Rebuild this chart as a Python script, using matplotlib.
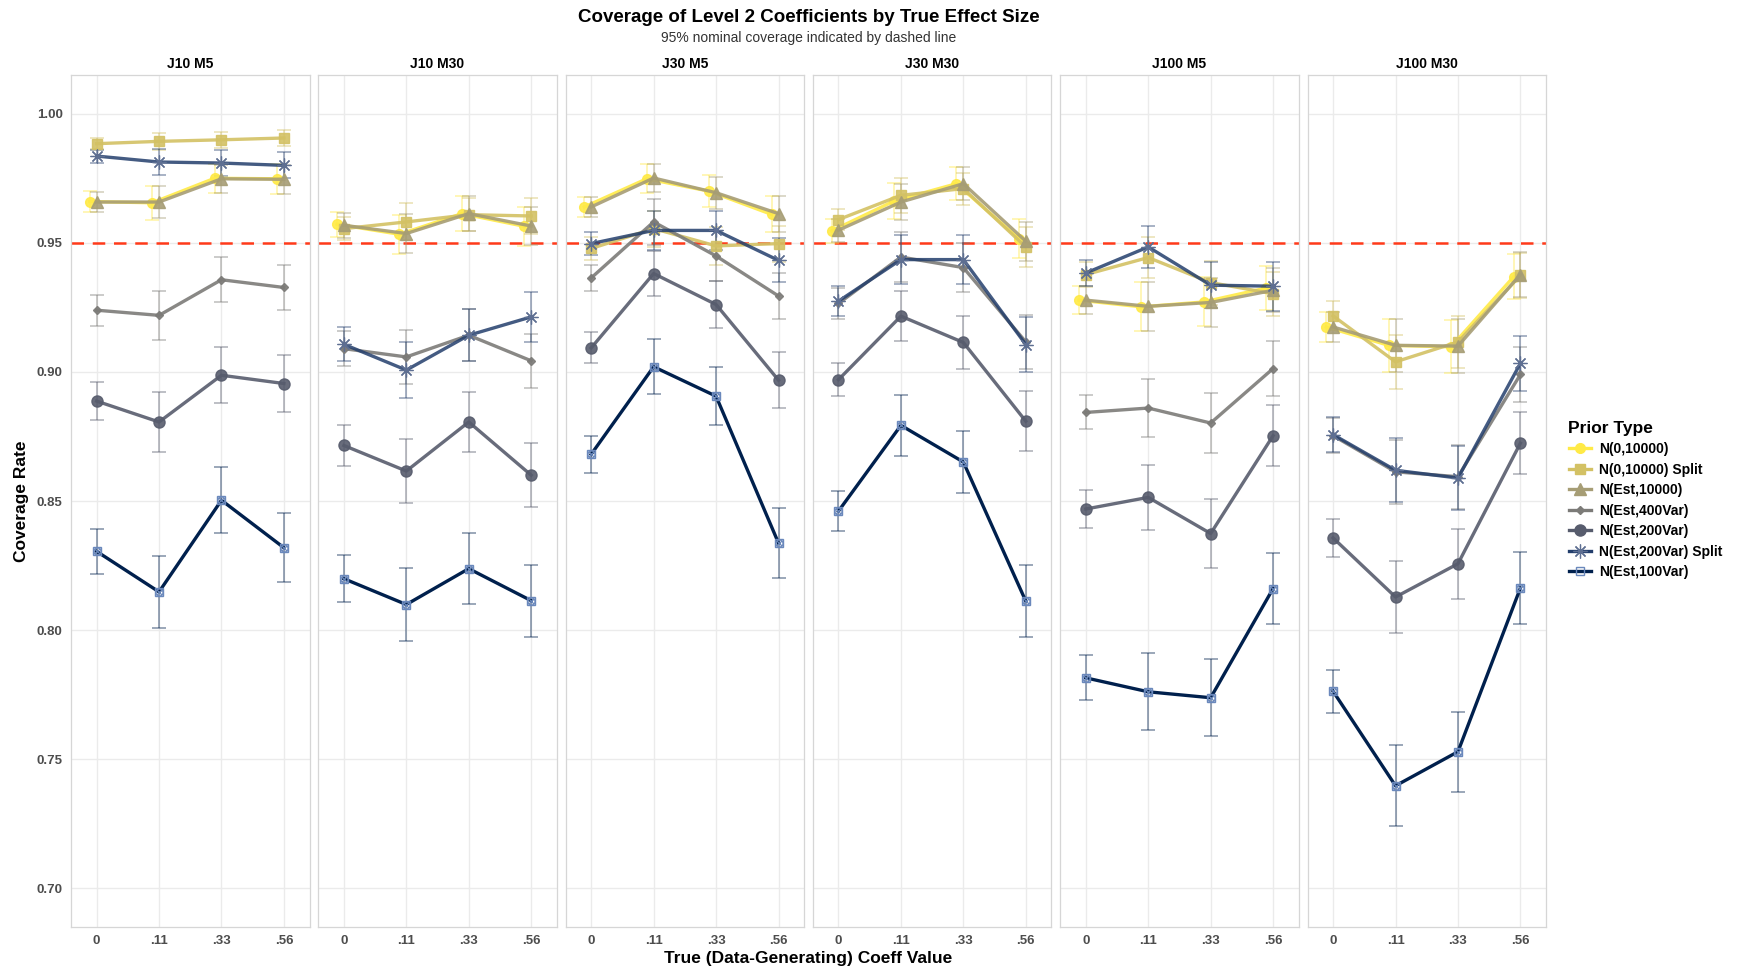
import matplotlib
matplotlib.use("Agg")
import matplotlib.pyplot as plt
from matplotlib.lines import Line2D

plt.rcParams['font.family'] = ['Liberation Sans', 'DejaVu Sans']

# categories
x_labels = ['0', '.11', '.33', '.56']
panels = ['J10 M5', 'J10 M30', 'J30 M5', 'J30 M30', 'J100 M5', 'J100 M30']
prior_types = ['N(0,10000)', 'N(0,10000) Split', 'N(Est,10000)', 'N(Est,400Var)',
               'N(Est,200Var)', 'N(Est,200Var) Split', 'N(Est,100Var)']

# coverage rates, one row per prior type (same order as prior_types)
cov_J10_M5 = [[0.9660, 0.9655, 0.9750, 0.9748],
              [0.9884, 0.9893, 0.9899, 0.9906],
              [0.9658, 0.9658, 0.9748, 0.9746],
              [0.9239, 0.9219, 0.9357, 0.9327],
              [0.8887, 0.8806, 0.8987, 0.8955],
              [0.9836, 0.9813, 0.9809, 0.9800],
              [0.8305, 0.8148, 0.8503, 0.8319]]
cov_J10_M30 = [[0.9572, 0.9533, 0.9613, 0.9564],
               [0.9555, 0.9581, 0.9609, 0.9604],
               [0.9568, 0.9536, 0.9613, 0.9565],
               [0.9090, 0.9058, 0.9142, 0.9043],
               [0.8715, 0.8616, 0.8806, 0.8600],
               [0.9107, 0.9007, 0.9142, 0.9213],
               [0.8199, 0.8099, 0.8238, 0.8114]]
cov_J30_M5 = [[0.9639, 0.9748, 0.9700, 0.9610],
              [0.9478, 0.9555, 0.9488, 0.9497],
              [0.9639, 0.9751, 0.9694, 0.9613],
              [0.9364, 0.9581, 0.9449, 0.9294],
              [0.9093, 0.9381, 0.9261, 0.8968],
              [0.9497, 0.9548, 0.9548, 0.9432],
              [0.8681, 0.9020, 0.8906, 0.8337]]
cov_J30_M30 = [[0.9546, 0.9662, 0.9729, 0.9516],
               [0.9590, 0.9684, 0.9710, 0.9484],
               [0.9549, 0.9658, 0.9729, 0.9506],
               [0.9265, 0.9445, 0.9404, 0.9116],
               [0.8970, 0.9216, 0.9114, 0.8809],
               [0.9274, 0.9435, 0.9435, 0.9106],
               [0.8461, 0.8793, 0.8651, 0.8112]]
cov_J100_M5 = [[0.9278, 0.9252, 0.9271, 0.9325],
               [0.9377, 0.9443, 0.9346, 0.9303],
               [0.9278, 0.9254, 0.9269, 0.9316],
               [0.8843, 0.8860, 0.8802, 0.9013],
               [0.8469, 0.8514, 0.8374, 0.8753],
               [0.9383, 0.9484, 0.9336, 0.9332],
               [0.7815, 0.7761, 0.7738, 0.8161]]
cov_J100_M30 = [[0.9174, 0.9103, 0.9097, 0.9368],
                [0.9217, 0.9039, 0.9116, 0.9374],
                [0.9174, 0.9103, 0.9100, 0.9377],
                [0.8753, 0.8613, 0.8594, 0.8990],
                [0.8357, 0.8128, 0.8257, 0.8724],
                [0.8757, 0.8619, 0.8589, 0.9033],
                [0.7763, 0.7397, 0.7529, 0.8163]]

# error bar half-widths
err_J10_M5 = [[0.0040, 0.0066, 0.0057, 0.0057],
              [0.0022, 0.0032, 0.0030, 0.0030],
              [0.0040, 0.0062, 0.0055, 0.0055],
              [0.0060, 0.0095, 0.0087, 0.0088],
              [0.0073, 0.0116, 0.0108, 0.0110],
              [0.0025, 0.0049, 0.0049, 0.0050],
              [0.0087, 0.0139, 0.0128, 0.0134]]
err_J10_M30 = [[0.0048, 0.0075, 0.0068, 0.0075],
               [0.0045, 0.0072, 0.0065, 0.0068],
               [0.0048, 0.0075, 0.0068, 0.0075],
               [0.0068, 0.0105, 0.0100, 0.0105],
               [0.0081, 0.0123, 0.0116, 0.0124],
               [0.0066, 0.0107, 0.0100, 0.0097],
               [0.0092, 0.0141, 0.0137, 0.0139]]
err_J30_M5 = [[0.0040, 0.0056, 0.0062, 0.0070],
              [0.0045, 0.0070, 0.0075, 0.0070],
              [0.0040, 0.0056, 0.0062, 0.0070],
              [0.0052, 0.0090, 0.0095, 0.0090],
              [0.0060, 0.0087, 0.0092, 0.0108],
              [0.0044, 0.0075, 0.0075, 0.0085],
              [0.0072, 0.0107, 0.0112, 0.0134]]
err_J30_M30 = [[0.0045, 0.0070, 0.0065, 0.0075],
               [0.0040, 0.0068, 0.0062, 0.0078],
               [0.0045, 0.0070, 0.0065, 0.0075],
               [0.0060, 0.0095, 0.0095, 0.0105],
               [0.0065, 0.0097, 0.0103, 0.0116],
               [0.0058, 0.0095, 0.0095, 0.0105],
               [0.0076, 0.0117, 0.0121, 0.0140]]
err_J100_M5 = [[0.0054, 0.0095, 0.0095, 0.0085],
               [0.0050, 0.0080, 0.0085, 0.0085],
               [0.0054, 0.0095, 0.0095, 0.0085],
               [0.0066, 0.0114, 0.0116, 0.0107],
               [0.0075, 0.0127, 0.0132, 0.0117],
               [0.0050, 0.0080, 0.0090, 0.0095],
               [0.0087, 0.0149, 0.0150, 0.0139]]
err_J100_M30 = [[0.0057, 0.0103, 0.0103, 0.0087],
                [0.0056, 0.0105, 0.0100, 0.0087],
                [0.0057, 0.0103, 0.0103, 0.0087],
                [0.0068, 0.0124, 0.0124, 0.0108],
                [0.0075, 0.0139, 0.0135, 0.0119],
                [0.0068, 0.0124, 0.0124, 0.0107],
                [0.0083, 0.0157, 0.0155, 0.0139]]

coverage = [cov_J10_M5, cov_J10_M30, cov_J30_M5, cov_J30_M30, cov_J100_M5, cov_J100_M30]
errors = [err_J10_M5, err_J10_M30, err_J30_M5, err_J30_M30, err_J100_M5, err_J100_M30]

# cividis-like palette
colors = ['#FFEA46', '#D3C164', '#A69D75', '#7C7B78', '#575C6D', '#233E6C', '#00204D']
markers = ['o', 's', '^', 'D', 'o', (8, 2, 0), 's']
msizes = [7, 6.5, 8, 4, 8, 10, 6]
# small horizontal nudge of the N(0,10000) points, as in the original
nudge = [-0.11, 0, 0, 0, 0, 0, 0]

W, H = 1739, 972
fig = plt.figure(figsize=(W / 100, H / 100), dpi=100)

left, pw, gap = 71, 238.5, 8.8
top, bottom = 75, 927
x = [1, 2, 3, 4]
grid_col = '#EBEBEB'
text_col = '#4D4D4D'

for p, name in enumerate(panels):
    x0 = left + p * (pw + gap)
    ax = fig.add_axes([x0 / W, 1 - bottom / H, pw / W, (bottom - top) / H])
    ax.set_xlim(0.59, 4.41)
    ax.set_ylim(0.685, 1.015)
    ax.set_yticks([0.70, 0.75, 0.80, 0.85, 0.90, 0.95, 1.00])
    ax.set_xticks(x)
    ax.set_xticklabels(x_labels)
    ax.grid(True, color=grid_col, lw=1.0)
    ax.set_axisbelow(True)
    for s in ax.spines.values():
        s.set_color('#D6D6D6')
        s.set_linewidth(0.9)
    ax.tick_params(length=0, labelsize=9.5, labelcolor=text_col, pad=6)
    for lab in ax.get_xticklabels() + ax.get_yticklabels():
        lab.set_fontweight('bold')
    if p == 0:
        ax.set_yticklabels(['0.70', '0.75', '0.80', '0.85', '0.90', '0.95', '1.00'])
    else:
        ax.set_yticklabels([])
    ax.set_title(name, fontsize=10, fontweight='bold', pad=5)

    ax.axhline(0.95, color='#FF3A1A', lw=1.8, ls=(0, (5, 3.5)), zorder=1)

    for i in range(len(prior_types)):
        y = coverage[p][i]
        e = errors[p][i]
        c = colors[i]
        xs = [v + nudge[i] for v in x]
        z = 3 + i * 0.1
        ax.errorbar(xs, y, yerr=e, fmt='none', ecolor=c, elinewidth=1.1,
                    capsize=5, capthick=1.1, alpha=0.5, zorder=2)
        if i == 6:
            ax.plot(xs, y, color=c, lw=2.4, zorder=z)
            ax.plot(xs, y, ls='none', marker='s', ms=6, mfc='none', mec='#6A88BC', mew=1.0, zorder=z + 0.05)
            ax.plot(xs, y, ls='none', marker='x', ms=5, mec='#6A88BC', mew=0.9, zorder=z + 0.05)
            ax.plot(xs, y, ls='none', marker='o', ms=5, mfc='none', mec='#6A88BC', mew=0.8, zorder=z + 0.05)
        elif i == 5:
            ax.plot(xs, y, color=c, lw=2.4, zorder=z, alpha=0.85)
            ax.plot(xs, y, ls='none', marker=markers[i], ms=msizes[i], mec='#5E6F92', mew=0.9, zorder=z + 0.05)
        else:
            ax.plot(xs, y, color=c, lw=2.4, marker=markers[i], ms=msizes[i],
                    mec=c, mfc=c, alpha=0.9, zorder=z)

# titles
cx = (left + left + 6 * pw + 5 * gap) / 2 / W
fig.text(cx, 1 - 17 / H, 'Coverage of Level 2 Coefficients by True Effect Size',
         ha='center', va='center', fontsize=13.5, fontweight='bold')
fig.text(cx, 1 - 38 / H, '95% nominal coverage indicated by dashed line',
         ha='center', va='center', fontsize=10, color='#333333')
fig.text(cx, 1 - 958 / H, 'True (Data-Generating) Coeff Value',
         ha='center', va='center', fontsize=12.5, fontweight='bold')
fig.text(22 / W, 1 - ((top + bottom) / 2) / H, 'Coverage Rate', rotation=90,
         ha='center', va='center', fontsize=12.5, fontweight='bold')

# legend
handles = []
for i, lab in enumerate(prior_types):
    if i == 6:
        h = Line2D([], [], color=colors[i], lw=2.4, marker='s', ms=6, mfc='none', mec='#6A88BC')
    elif i == 5:
        h = Line2D([], [], color=colors[i], lw=2.4, marker=markers[i], ms=msizes[i], mec='#5E6F92', mew=0.9)
    else:
        h = Line2D([], [], color=colors[i], lw=2.4, marker=markers[i], ms=msizes[i],
                   mec=colors[i], mfc=colors[i])
    handles.append(h)
leg = fig.legend(handles, prior_types, loc='upper left',
                 bbox_to_anchor=(1556 / W, 1 - 408 / H), frameon=False,
                 title='Prior Type', handlelength=1.6, labelspacing=0.47,
                 handletextpad=0.6, prop={'weight': 'bold', 'size': 10},
                 title_fontproperties={'weight': 'bold', 'size': 12.5})
leg._legend_box.align = 'left'

fig.savefig('out.png', dpi=100)
